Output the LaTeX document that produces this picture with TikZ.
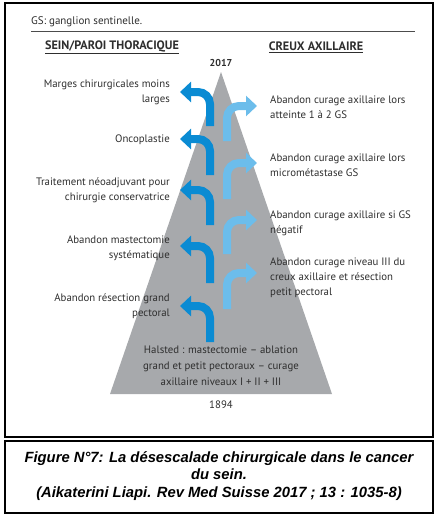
\documentclass[tikz,border=0pt]{standalone}
\usepackage{fontspec}
\setmainfont{PT Sans}
\newfontfamily\capfont{Liberation Sans}
\usetikzlibrary{arrows.meta}
\definecolor{darkblue}{HTML}{0A8BD3}
\definecolor{lightblue}{HTML}{6CBDEB}
\definecolor{pyramid}{HTML}{A7A9AC}
\definecolor{txt}{HTML}{2E2E2E}
\begin{document}
\begin{tikzpicture}[x=1pt,y=-1pt,
  lbl/.style={font=\fontsize{10.8}{15}\selectfont, text=txt, inner sep=0pt},
  lefttxt/.style={lbl, align=right, anchor=east},
  righttxt/.style={lbl, align=left, anchor=west},
  hdr/.style={font=\fontsize{12.2}{13}\selectfont\bfseries, text=txt, inner sep=0pt},
  darr/.style={draw=darkblue, line width=8pt, rounded corners=12pt, -{Triangle[width=20pt,length=11pt]}},
  larr/.style={draw=lightblue, line width=8pt, rounded corners=12pt, -{Triangle[width=20pt,length=11pt]}},
  frame/.style={draw=black, line width=1.2pt}
]
\useasboundingbox (0,0) rectangle (444,519);
% frames
\draw[frame] (5,3) rectangle (433,437);
\draw[frame] (5,441) rectangle (433,513);
% legend
\node[lbl, anchor=west, font=\fontsize{11}{13}\selectfont] (gs) at (31,22) {GS: ganglion sentinelle.};
\draw[black!70, line width=1pt] (31,32) -- (415,32);
\node[hdr] (h1) at (112,47) {\underline{SEIN/PAROI THORACIQUE}};
\node[hdr] (h2) at (316,47) {\underline{CREUX AXILLAIRE}};
% pyramid
\fill[pyramid] (221,72) -- (332,394) -- (110,394) -- cycle;
\node[hdr, font=\fontsize{10}{11}\selectfont\bfseries] (y2017) at (221,63) {2017};
\node[lbl] (y1894) at (221,405) {1894};
\node[lbl, align=center, font=\fontsize{10.8}{16}\selectfont] (halsted) at (221,366)
  {Halsted : mastectomie -- ablation\\grand et petit pectoraux -- curage\\axillaire niveaux I + II + III};
% dark arrows (sein)
\foreach \n/\hy/\by in {1/92/126, 2/139/175, 3/190/225, 4/246/283, 5/306/342}{
  \coordinate (ds\n) at (210,\by);
  \coordinate (dc\n) at (210,\hy);
  \coordinate (dt\n) at (180,\hy);
  \draw[darr] (ds\n) -- (dc\n) -- (dt\n);
}
% light arrows (creux)
\foreach \n/\hy/\by in {1/106/141, 2/163/199, 3/220/254, 4/273/309}{
  \coordinate (ls\n) at (227,\by);
  \coordinate (lc\n) at (227,\hy);
  \coordinate (lt\n) at (257,\hy);
  \draw[larr] (ls\n) -- (lc\n) -- (lt\n);
}
% left texts
\node[lefttxt] (l1) at (170,92) {Marges chirurgicales moins\\larges};
\node[lefttxt] (l2) at (170,140) {Oncoplastie};
\node[lefttxt] (l3) at (170,190) {Traitement néoadjuvant pour\\chirurgie conservatrice};
\node[lefttxt] (l4) at (170,248) {Abandon mastectomie\\systématique};
\node[lefttxt] (l5) at (170,306) {Abandon résection grand\\pectoral};
% right texts
\node[righttxt] (r1) at (270,107) {Abandon curage axillaire lors\\atteinte 1 à 2 GS};
\node[righttxt] (r2) at (270,165) {Abandon curage axillaire lors\\micrométastase GS};
\node[righttxt] (r3) at (270,223) {Abandon curage axillaire si GS\\négatif};
\node[righttxt] (r4) at (270,278) {Abandon curage niveau III du\\creux axillaire et résection\\petit pectoral};
% caption
\node[align=center, inner sep=0pt, font=\capfont\fontsize{14.8}{17.5}\selectfont\bfseries\itshape] (cap) at (219,476)
  {Figure N°7: La désescalade chirurgicale dans le cancer\\du sein.\\(Aikaterini Liapi. Rev Med Suisse 2017 ; 13 : 1035-8)};
\end{tikzpicture}
\end{document}
